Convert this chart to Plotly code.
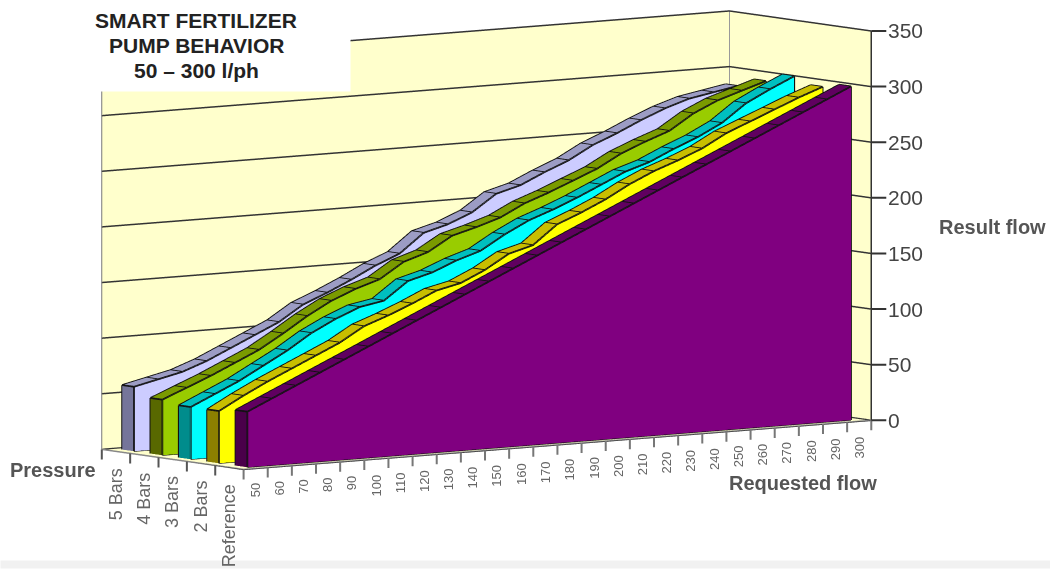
import plotly.graph_objects as go

requested_flow = list(range(50, 301, 10))
pressure_labels = ["Reference", "2 Bars", "3 Bars", "4 Bars", "5 Bars"]
result_ticks = list(range(0, 351, 50))
title_lines = ["SMART FERTILIZER", "PUMP BEHAVIOR", "50 – 300 l/ph"]
reference = [50,60,70,80,90,100,110,120,130,140,150,160,170,180,190,200,210,220,230,240,250,260,270,280,290,300]
bars_2 = [47,59,70,80,90,100,113,121,130,140,145,155,168,174,191,200,210,222,232,240,249,261,270,279,288,296]
bars_3 = [47,57,67,79,91,105,116,125,129,145,151,160,167,180,191,199,208,218,228,235,245,254,265,281,292,302]
bars_4 = [50,59,68,78,88,101,115,127,136,143,157,164,177,183,190,201,209,218,227,239,248,256,270,280,287,294]
bars_5 = [58,63,68,76,86,96,106,120,129,139,150,159,176,182,191,206,212,222,231,243,252,262,271,278,282,286]
series_values = [reference, bars_2, bars_3, bars_4, bars_5]

front_colors = ["#800080", "#FFFF00", "#00FFFF", "#99CC00", "#CCCCFF"]
top_colors = ["#600060", "#C8BE00", "#00BFBF", "#7A9A00", "#9C9CC4"]
side_colors = ["#4A004A", "#8C8000", "#008C8C", "#586800", "#75759A"]
WALL = "#FFFFCC"
DEPTH = 0.42

FLAT = dict(ambient=1, diffuse=0, specular=0, roughness=1, fresnel=0)
fig = go.Figure()

def quads(px, py, pz, faces, color):
    ii, jj, kk = [], [], []
    for a, b, c, d in faces:
        ii += [a, a]; jj += [b, c]; kk += [c, d]
    fig.add_trace(go.Mesh3d(x=px, y=py, z=pz, i=ii, j=jj, k=kk, color=color,
                            flatshading=True, lighting=FLAT, hoverinfo="skip", showscale=False))

def line3d(x, y, z, color, width):
    fig.add_trace(go.Scatter3d(x=x, y=y, z=z, mode="lines", line=dict(color=color, width=width),
                               hoverinfo="skip", showlegend=False))

for s, vals in enumerate(series_values):
    y0 = s + (1 - DEPTH) / 2
    y1 = y0 + DEPTH
    n = len(vals)
    fx = requested_flow + requested_flow
    fy = [y0] * (2 * n)
    fz = [0] * n + vals
    quads(fx, fy, fz, [(i, i + 1, n + i + 1, n + i) for i in range(n - 1)], front_colors[s])
    tx = requested_flow + requested_flow
    ty = [y0] * n + [y1] * n
    tz = vals + vals
    quads(tx, ty, tz, [(i, i + 1, n + i + 1, n + i) for i in range(n - 1)], top_colors[s])
    quads([50, 50, 50, 50], [y0, y1, y1, y0], [0, 0, vals[0], vals[0]], [(0, 1, 2, 3)], side_colors[s])
    lx, ly, lz = [], [], []
    for i in range(n):
        lx += [requested_flow[i], requested_flow[i], None]
        ly += [y0, y1, None]
        lz += [vals[i], vals[i], None]
    lx += requested_flow + [None] + requested_flow + [None]
    ly += [y0] * n + [None] + [y1] * n + [None]
    lz += vals + [None] + vals + [None]
    lx += [50, 50, None, 50, 50, None, 300, 300, None, 50, 300, None]
    ly += [y0, y0, None, y1, y1, None, y0, y0, None, y0, y0, None]
    lz += [0, vals[0], None, 0, vals[0], None, 0, vals[-1], None, 0, 0, None]
    line3d(lx, ly, lz, "#111111", 3.5)

line3d([305, 305], [0, 0], [0, 350], "#333333", 3)
line3d([45, 305], [0, 0], [0, 0], "#222222", 3)
line3d([45, 45], [0, 5], [0, 0], "#222222", 3)
line3d([45, 45], [5, 5], [0, 350], "#777777", 2)
line3d([305, 305], [5, 5], [0, 350], "#999999", 3)

xlabels = [dict(x=v, y=0, z=0, text=str(v), showarrow=False, textangle=-90, xanchor="center", yanchor="top",
                yshift=-13, font=dict(family="Liberation Sans", size=13, color="#666666")) for v in requested_flow]
ylabels = [dict(x=45, y=i + 0.5, z=0, text=t, showarrow=False, textangle=-90, xanchor="center", yanchor="top",
                yshift=-15, font=dict(family="Liberation Sans", size=18, color="#666666"))
           for i, t in enumerate(pressure_labels)]
zlabels = [dict(x=305, y=0, z=v, text=str(v), showarrow=True, arrowhead=0, arrowwidth=2, arrowcolor="#333333",
                ax=15, ay=0, xanchor="left", yanchor="middle", standoff=0, startstandoff=0,
                font=dict(family="Liberation Sans", size=21, color="#444444")) for v in result_ticks]
xticks = [dict(x=45 + 10 * i, y=0, z=0, text=" ", showarrow=True, arrowhead=0, arrowwidth=2, arrowcolor="#777777",
               ax=0, ay=12, standoff=0, startstandoff=0, font=dict(size=1)) for i in range(27)]
yticks = [dict(x=45, y=i, z=0, text=" ", showarrow=True, arrowhead=0, arrowwidth=2, arrowcolor="#555555",
               ax=0, ay=12, standoff=0, startstandoff=0, font=dict(size=1)) for i in range(1, 6)]

ex, ey, ez = -0.593, -0.797, 0.105
K = 1.6
ZOOM = 2.75
cx, cy, cz = 0.0993, -0.093, -0.155
axis_common = dict(showbackground=True, backgroundcolor=WALL, showspikes=False, zeroline=False,
                   title=dict(text=""))
scene = dict(
    domain=dict(x=[0, 1], y=[0, 1]),
    aspectmode="manual", aspectratio=dict(x=ZOOM, y=0.3036 * ZOOM, z=0.5004 * ZOOM),
    camera=dict(projection=dict(type="orthographic"), up=dict(x=0, y=0, z=1),
                center=dict(x=cx, y=cy, z=cz), eye=dict(x=cx + ex * K, y=cy + ey * K, z=cz + ez * K)),
    xaxis=dict(range=[45, 305], tickmode="array", tickvals=[], showticklabels=False,
               showgrid=False, ticks="", showline=True, linecolor="#888888", linewidth=3, **axis_common),
    yaxis=dict(range=[0, 5], tickmode="array", tickvals=[], showticklabels=False,
               showgrid=False, ticks="", showline=True, linecolor="#888888", linewidth=3, **axis_common),
    zaxis=dict(range=[0, 350], tickmode="array", tickvals=result_ticks, showgrid=True, gridcolor="#333333",
               gridwidth=3, ticks="", showticklabels=False, showline=False, **axis_common),
    annotations=xticks + yticks + xlabels + ylabels + zlabels,
)

title_font = dict(family="Liberation Sans", size=21, color="#222222")
label_font = dict(family="Liberation Sans", size=20, color="#555555")
def paper_text(text, px, py, font):
    return dict(xref="paper", yref="paper", x=px / 1050, y=1 - py / 569, xanchor="center", yanchor="middle",
                showarrow=False, text=f"<b>{text}</b>", font=font)

fig.update_layout(
    width=1050, height=569, margin=dict(l=0, r=0, t=0, b=0, autoexpand=False), paper_bgcolor="white",
    showlegend=False, scene=scene,
    annotations=[
        dict(xref="paper", yref="paper", x=0, y=0, xanchor="left", yanchor="bottom", width=1050, height=5,
             bgcolor="#F1F1F1", showarrow=False, text=" ", font=dict(size=1)),
        dict(xref="paper", yref="paper", x=43/1050, y=1, xanchor="left", yanchor="top", width=304, height=88,
             bgcolor="white", showarrow=False, text=" ", font=dict(size=1)),
        paper_text(title_lines[0], 196, 21, title_font),
        paper_text(title_lines[1], 196, 46, title_font),
        paper_text(title_lines[2], 196, 70, title_font),
        paper_text("Pressure", 53, 470, label_font),
        paper_text("Requested flow", 803, 483, label_font),
        paper_text("Result flow", 992, 227, label_font),
    ],
)
fig.write_html("out.html", post_script="document.body.style.margin='0';", config=dict(displayModeBar=False))
